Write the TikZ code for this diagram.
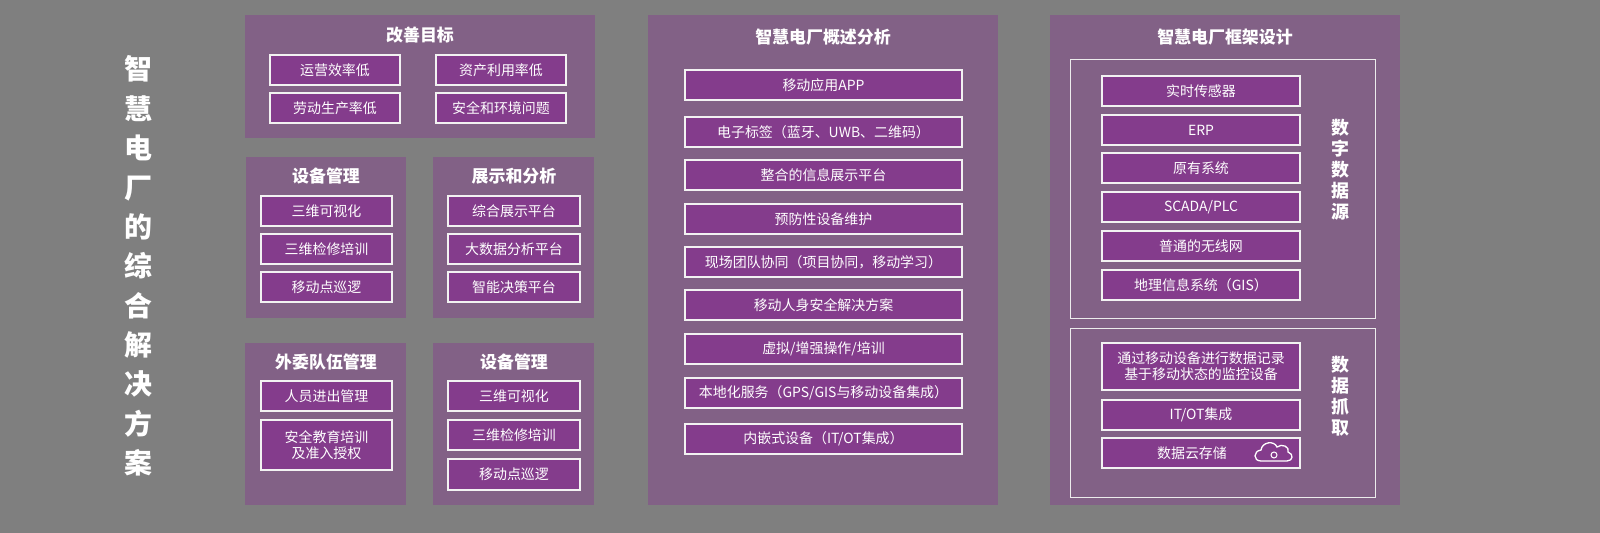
\documentclass[tikz,border=0pt]{standalone}
\usepackage{fontspec}
\setmainfont{Noto Sans CJK SC}
\begin{document}
\definecolor{bg}{HTML}{7F7F7F}
\definecolor{pan}{HTML}{826186}
\definecolor{bx}{HTML}{843C8C}
\begin{tikzpicture}[x=1bp,y=-1bp,
  panel/.style={fill=pan,draw=none},
  frm/.style={draw=white!85!gray,line width=1pt},
  bxs/.style={fill=bx,draw=white!90!gray,line width=1.3pt},
  txt/.style={text=white,font=\fontsize{14}{16}\selectfont,align=center,inner sep=0pt},
  ttl/.style={text=white,font=\bfseries\fontsize{17}{19}\selectfont,inner sep=0pt},
  vt/.style={text=white,font=\bfseries\fontsize{18}{21}\selectfont,align=center,inner sep=0pt}]
\fill[bg] (0,0) rectangle (1600,533);
\newcommand\bb[6]{\draw[bxs] (#2,#3) rectangle (#4,#5); \node[txt] (#1) at ({(#2+#4)/2},{(#3+#5)/2}) {#6};}
% title
\node[text=white,font=\bfseries\fontsize{28}{39.5}\selectfont,align=center,inner sep=0pt] (main) at (138,266) {智\\慧\\电\\厂\\的\\综\\合\\解\\决\\方\\案};
% panel A
\fill[panel] (245,15) rectangle (595,138);
\node[ttl] (ta) at (420,35) {改善目标};
\bb{a1}{270}{55}{400}{85}{运营效率低}
\bb{a2}{436}{55}{566}{85}{资产利用率低}
\bb{a3}{270}{93}{400}{123}{劳动生产率低}
\bb{a4}{436}{93}{566}{123}{安全和环境问题}
% panel B
\fill[panel] (246,157) rectangle (406,318);
\node[ttl] (tb) at (326,176) {设备管理};
\bb{b1}{261}{196}{392}{226}{三维可视化}
\bb{b2}{261}{234}{392}{264}{三维检修培训}
\bb{b3}{261}{272}{392}{302}{移动点巡逻}
% panel C
\fill[panel] (433,157) rectangle (594,318);
\node[ttl] (tc) at (514,176) {展示和分析};
\bb{c1}{448}{196}{580}{226}{综合展示平台}
\bb{c2}{448}{234}{580}{264}{大数据分析平台}
\bb{c3}{448}{272}{580}{302}{智能决策平台}
% panel D
\fill[panel] (245,343) rectangle (406,505);
\node[ttl] (td) at (326,362) {外委队伍管理};
\bb{d1}{261}{381}{392}{411}{人员进出管理}
\bb{d2}{261}{420}{392}{470}{安全教育培训\\及准入授权}
% panel E
\fill[panel] (433,343) rectangle (594,505);
\node[ttl] (te) at (514,362) {设备管理};
\bb{e1}{448}{381}{580}{411}{三维可视化}
\bb{e2}{448}{420}{580}{450}{三维检修培训}
\bb{e3}{448}{459}{580}{490}{移动点巡逻}
% panel F
\fill[panel] (648,15) rectangle (998,505);
\node[ttl] (tf) at (823,37) {智慧电厂概述分析};
\bb{f1}{685}{70}{962}{100}{移动应用APP}
\bb{f2}{685}{117}{962}{147}{电子标签（蓝牙、UWB、二维码）}
\bb{f3}{685}{160}{962}{190}{整合的信息展示平台}
\bb{f4}{685}{204}{962}{234}{预防性设备维护}
\bb{f5}{685}{247}{962}{277}{现场团队协同（项目协同，移动学习）}
\bb{f6}{685}{290}{962}{320}{移动人身安全解决方案}
\bb{f7}{685}{334}{962}{364}{虚拟/增强操作/培训}
\bb{f8}{685}{378}{962}{408}{本地化服务（GPS/GIS与移动设备集成）}
\bb{f9}{685}{424}{962}{454}{内嵌式设备（IT/OT集成）}
% panel G
\fill[panel] (1050,15) rectangle (1400,505);
\node[ttl] (tg) at (1225,37) {智慧电厂框架设计};
\draw[frm] (1070,60) rectangle (1375,318);
\draw[frm] (1070,328) rectangle (1375,497);
\bb{g1}{1102}{76}{1300}{106}{实时传感器}
\bb{g2}{1102}{115}{1300}{145}{ERP}
\bb{g3}{1102}{153}{1300}{183}{原有系统}
\bb{g4}{1102}{192}{1300}{222}{SCADA/PLC}
\bb{g5}{1102}{231}{1300}{261}{普通的无线网}
\bb{g6}{1102}{270}{1300}{300}{地理信息系统（GIS）}
\node[vt] (vg) at (1340,170) {数\\字\\数\\据\\源};
\bb{h1}{1102}{343}{1300}{390}{通过移动设备进行数据记录\\基于移动状态的监控设备}
\bb{h2}{1102}{400}{1300}{430}{IT/OT集成}
\draw[bxs] (1102,438) rectangle (1300,468);
\node[txt] (h3) at (1192,453) {数据云存储};
\node[vt] (vh) at (1340,396) {数\\据\\抓\\取};
% cloud icon
\draw[white,line width=1.3pt] (1261,461) .. controls (1253,461) and (1253,451) .. (1261,450)
  .. controls (1262,442) and (1274,440) .. (1277,447)
  .. controls (1282,443) and (1290,447) .. (1288,452)
  .. controls (1294,454) and (1293,461) .. (1287,461) -- cycle;
\draw[white,line width=1pt] (1274,455) circle (3);
\pgfresetboundingbox
\useasboundingbox (0,0) rectangle (1600,533);
\end{tikzpicture}
\end{document}
